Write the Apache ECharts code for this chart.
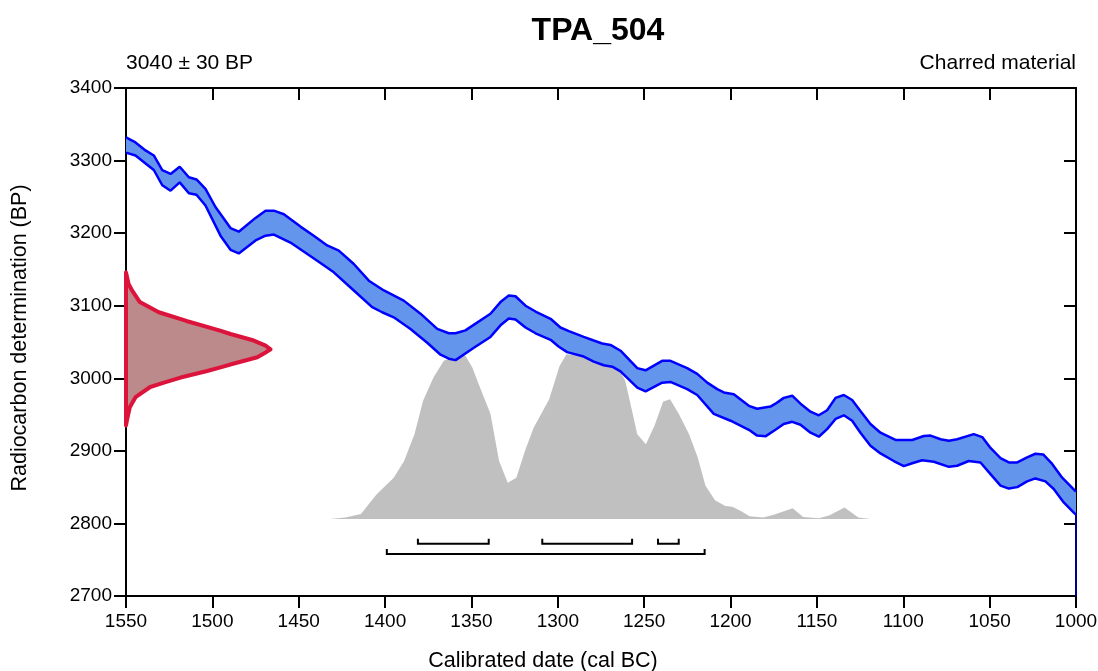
<!DOCTYPE html>
<html>
<head>
<meta charset="utf-8">
<title>TPA_504</title>
<script src="https://cdn.jsdelivr.net/npm/echarts@6/dist/echarts.min.js"></script>
<style>
html, body { margin: 0; padding: 0; background: #fff; }
#chart { width: 1098px; height: 671px; }
</style>
</head>
<body>
<div id="chart"></div>
<script>
// calibration curve, upper and lower edge (cal BC, BP)
var upYear = [1550, 1544.5, 1538.7, 1533.9, 1529, 1524.2, 1518.9, 1513.6, 1509.2, 1504, 1498.2, 1489.5, 1484.7, 1475, 1469.2, 1464.4, 1458.6, 1449, 1441.3, 1433.5, 1426.8, 1418.1, 1409.4, 1400.7, 1389.2, 1379.5, 1369.8, 1363.1, 1359.2, 1353.5, 1339, 1333.2, 1328.4, 1324.5, 1318.7, 1312.9, 1304.2, 1298.5, 1293.6, 1285, 1279.2, 1274.3, 1269.5, 1263.7, 1254, 1249.2, 1239.6, 1234.8, 1225.1, 1219.3, 1213.5, 1207.7, 1203.9, 1198.1, 1189.4, 1184.6, 1176.9, 1174, 1169.2, 1164.3, 1159.5, 1153.7, 1148.9, 1144.1, 1139.2, 1134.4, 1129.6, 1124.8, 1119, 1113.2, 1104.5, 1094.8, 1088.1, 1084.2, 1078.4, 1073.6, 1068.8, 1059.2, 1054.3, 1049.5, 1043.7, 1038.9, 1034, 1028.3, 1023.5, 1019, 1013.8, 1008, 1001.3, 1000];
var upBP = [3332, 3325, 3314, 3307, 3287, 3281.5, 3291.5, 3277, 3274, 3261, 3236, 3207, 3202, 3221, 3231, 3231, 3226, 3209, 3196.5, 3183, 3176, 3157.5, 3134.5, 3121, 3107, 3089, 3068, 3062, 3062, 3066, 3089, 3105, 3114, 3113, 3100, 3092, 3082, 3070, 3065, 3057, 3052, 3048, 3046, 3038, 3014, 3011, 3024, 3024, 3014, 3006, 2994, 2985, 2980.5, 2978, 2962, 2958, 2961, 2965, 2973, 2976, 2965, 2954, 2949, 2956, 2973, 2977, 2970, 2955, 2937, 2925, 2915, 2915, 2920.5, 2921, 2916, 2914, 2916, 2923, 2919, 2904, 2890, 2884, 2884, 2891, 2896, 2895, 2882, 2863, 2847, 2844];
var loYear = [1550, 1544.5, 1533.9, 1529, 1524.2, 1518.9, 1513.6, 1509.2, 1504, 1495.3, 1489.5, 1484.7, 1475, 1469.2, 1464.4, 1454.8, 1448, 1439.3, 1429.7, 1418.1, 1407.5, 1401.7, 1395, 1385.3, 1375.6, 1367.9, 1363.1, 1359.2, 1348.6, 1339, 1333.2, 1328.4, 1324.5, 1318.7, 1312.9, 1304.2, 1299.4, 1294.6, 1285, 1279.2, 1273.4, 1268.5, 1263.7, 1254, 1249.2, 1239.6, 1234.8, 1225.1, 1219.3, 1209.7, 1200, 1189.4, 1184.6, 1179.8, 1174, 1169.2, 1164.3, 1159.5, 1153.7, 1148.9, 1144.1, 1139.2, 1134.4, 1129.6, 1124.8, 1119, 1113.2, 1105.5, 1099.7, 1094.8, 1089.1, 1082.3, 1073.6, 1068.8, 1062.1, 1055.3, 1049.5, 1043.7, 1038.9, 1034, 1028.3, 1023.5, 1017.7, 1012.9, 1007.1, 1001.3, 1000];
var loBP = [3311, 3307, 3287, 3266, 3258.5, 3270, 3255, 3253, 3238, 3196.5, 3177, 3172, 3190, 3196.5, 3198, 3187, 3176, 3162, 3146, 3121, 3098, 3091, 3084, 3068, 3049, 3032.5, 3027, 3025, 3042, 3057, 3073, 3082.5, 3081, 3070, 3062, 3053, 3043.5, 3036, 3030, 3023, 3018, 3016, 3009.5, 2987, 2982, 2994, 2995, 2985, 2977, 2951, 2941.5, 2929, 2921, 2920, 2929, 2937, 2940, 2936, 2925, 2919.5, 2930, 2944, 2949, 2941.5, 2925, 2907, 2896.5, 2886, 2879, 2883, 2887, 2885, 2878, 2879.5, 2886, 2884, 2868, 2852, 2848, 2850, 2858, 2862, 2858, 2847.5, 2829, 2815, 2812];
var edgeYear = [1000, 1000];
var edgeBP = [2812, 2700];

// calibrated probability (grey), drawn up from probBase
var probBase = 2806;
var probYear = [1445, 1432, 1423, 1414, 1405, 1395, 1389, 1383, 1378, 1372, 1366, 1359, 1353.5, 1349.5, 1345, 1339, 1334, 1329, 1324, 1319, 1314, 1305, 1299, 1295, 1285, 1273, 1264, 1261, 1257, 1254, 1249, 1244, 1239, 1235, 1230, 1224, 1219, 1214.5, 1209, 1203, 1199, 1194, 1189, 1181, 1175, 1164, 1158, 1149, 1143, 1134, 1126, 1119, 1048];
var probBP = [2806, 2806, 2808, 2813, 2840, 2863, 2886, 2923, 2969, 3001, 3024, 3031, 3031, 3015, 2987, 2951, 2886, 2856, 2863, 2900, 2932, 2971, 3017, 3033, 3031, 3022, 3010, 2997, 2955, 2923, 2909, 2935, 2968, 2971, 2951, 2923, 2891, 2852, 2832, 2824, 2823, 2817, 2810, 2808, 2812, 2821, 2809, 2807, 2811, 2822, 2808, 2806, 2806];

// radiocarbon measurement 3040 +- 30 BP (red), hanging off the left axis
var likeBP = [3146, 3130, 3121, 3105, 3091, 3079, 3066, 3061, 3052, 3045, 3040, 3034, 3029, 3020, 3015, 3010, 3001, 2994, 2988, 2974, 2960, 2945, 2935];
var likeYear = [1550, 1548.5, 1546.5, 1542, 1531, 1515, 1496, 1489.5, 1476, 1469.2, 1466.3, 1470.2, 1474, 1488, 1495.3, 1503, 1518.4, 1528, 1536, 1544.5, 1547.8, 1549.2, 1550];

// ranges
var range68From = [1381, 1309, 1242];
var range68To = [1340, 1257, 1230];
var range95From = [1399];
var range95To = [1215];

var xTicks = [1550, 1500, 1450, 1400, 1350, 1300, 1250, 1200, 1150, 1100, 1050, 1000];
var yTicks = [2700, 2800, 2900, 3000, 3100, 3200, 3300, 3400];

var level68 = 2772;
var level95 = 2758;
var FONT = "'Liberation Sans', Arial, sans-serif";

function zip(xs, ys) {
    var out = [];
    for (var i = 0; i < xs.length; i++) {
        out.push([xs[i], ys[i]]);
    }
    return out;
}

function renderBand(params, api) {
    var pts = [];
    for (var i = 0; i < upYear.length; i++) pts.push(api.coord([upYear[i], upBP[i]]));
    for (var j = loYear.length - 1; j >= 0; j--) pts.push(api.coord([loYear[j], loBP[j]]));
    return { type: 'polygon', shape: { points: pts }, style: { fill: '#6495ed' } };
}

function renderProb(params, api) {
    var pts = [api.coord([probYear[0], probBase])];
    for (var i = 0; i < probYear.length; i++) pts.push(api.coord([probYear[i], probBP[i]]));
    pts.push(api.coord([probYear[probYear.length - 1], probBase]));
    return { type: 'polygon', shape: { points: pts }, style: { fill: '#c0c0c0' } };
}

function renderLike(params, api) {
    var pts = [];
    for (var i = 0; i < likeYear.length; i++) pts.push(api.coord([likeYear[i], likeBP[i]]));
    return {
        type: 'polygon',
        shape: { points: pts },
        style: { fill: '#bc8a8a', stroke: '#dc143c', lineWidth: 4, lineJoin: 'round' }
    };
}

function renderRange(params, api) {
    var a = api.coord([api.value(0), api.value(2)]);
    var b = api.coord([api.value(1), api.value(2)]);
    return {
        type: 'polyline',
        shape: { points: [[a[0], a[1] - 5], a, b, [b[0], b[1] - 5]] },
        style: { stroke: '#000', lineWidth: 2, fill: null }
    };
}

var ranges = [];
for (var i = 0; i < range68From.length; i++) ranges.push([range68From[i], range68To[i], level68]);
for (var k = 0; k < range95From.length; k++) ranges.push([range95From[k], range95To[k], level95]);

var xMin = Math.min.apply(null, xTicks), xMax = Math.max.apply(null, xTicks);
var yMin = Math.min.apply(null, yTicks), yMax = Math.max.apply(null, yTicks);

function plain(v) {
    return String(v);
}

function xAxisOf(pos, labels) {
    return {
        type: 'value', position: pos, min: xMin, max: xMax, interval: xTicks[0] - xTicks[1], inverse: true,
        axisLine: { onZero: false, lineStyle: { color: '#000', width: 2 } },
        axisTick: { inside: !labels, length: 12, lineStyle: { color: '#000', width: 2 } },
        axisLabel: { show: labels, color: '#000', fontSize: 19, fontFamily: FONT, margin: 16, formatter: plain },
        splitLine: { show: false }
    };
}
function yAxisOf(pos, labels) {
    return {
        type: 'value', position: pos, min: yMin, max: yMax, interval: yTicks[1] - yTicks[0],
        axisLine: { onZero: false, lineStyle: { color: '#000', width: 2 } },
        axisTick: { inside: !labels, length: 12, lineStyle: { color: '#000', width: 2 } },
        axisLabel: { show: labels, color: '#000', fontSize: 19, fontFamily: FONT, margin: 14, formatter: plain },
        splitLine: { show: false }
    };
}

var myChart = echarts.init(document.getElementById('chart'));
myChart.setOption({
    animation: false,
    grid: { left: 126, right: 22, top: 88, bottom: 75, outerBoundsMode: 'none', containLabel: false },
    xAxis: [xAxisOf('bottom', true), xAxisOf('top', false)],
    yAxis: [yAxisOf('left', true), yAxisOf('right', false)],
    graphic: [
        { type: 'text', x: 598, y: 31, style: { text: 'TPA_504', font: 'bold 32px ' + FONT, fill: '#000', textAlign: 'center', textVerticalAlign: 'middle' } },
        { type: 'text', x: 126, y: 63, style: { text: '3040 \u00b1 30 BP', font: '21px ' + FONT, fill: '#000', textAlign: 'left', textVerticalAlign: 'middle' } },
        { type: 'text', x: 1076, y: 63, style: { text: 'Charred material', font: '21px ' + FONT, fill: '#000', textAlign: 'right', textVerticalAlign: 'middle' } },
        { type: 'text', x: 543, y: 661, style: { text: 'Calibrated date (cal BC)', font: '21.5px ' + FONT, fill: '#000', textAlign: 'center', textVerticalAlign: 'middle' } },
        { type: 'text', x: 20, y: 338, rotation: Math.PI / 2, style: { text: 'Radiocarbon determination (BP)', font: '21.5px ' + FONT, fill: '#000', textAlign: 'center', textVerticalAlign: 'middle' } }
    ],
    series: [
        { type: 'custom', name: 'probability', renderItem: renderProb, data: [[1300, 2900]], z: 1, silent: true },
        { type: 'custom', name: 'band', renderItem: renderBand, data: [[1300, 3050]], z: 2, silent: true },
        { type: 'line', name: 'upper', data: zip(upYear, upBP), showSymbol: false, z: 3, lineStyle: { color: '#0000ff', width: 2.5 } },
        { type: 'line', name: 'lower', data: zip(loYear, loBP), showSymbol: false, z: 3, lineStyle: { color: '#0000ff', width: 2.5 } },
        { type: 'line', name: 'edge', data: zip(edgeYear, edgeBP), showSymbol: false, z: 3, lineStyle: { color: '#00008b', width: 2 } },
        { type: 'custom', name: 'measurement', renderItem: renderLike, data: [[1500, 3040]], z: 4, silent: true },
        { type: 'custom', name: 'ranges', renderItem: renderRange, data: ranges, z: 4, silent: true }
    ]
});
</script>
</body>
</html>
